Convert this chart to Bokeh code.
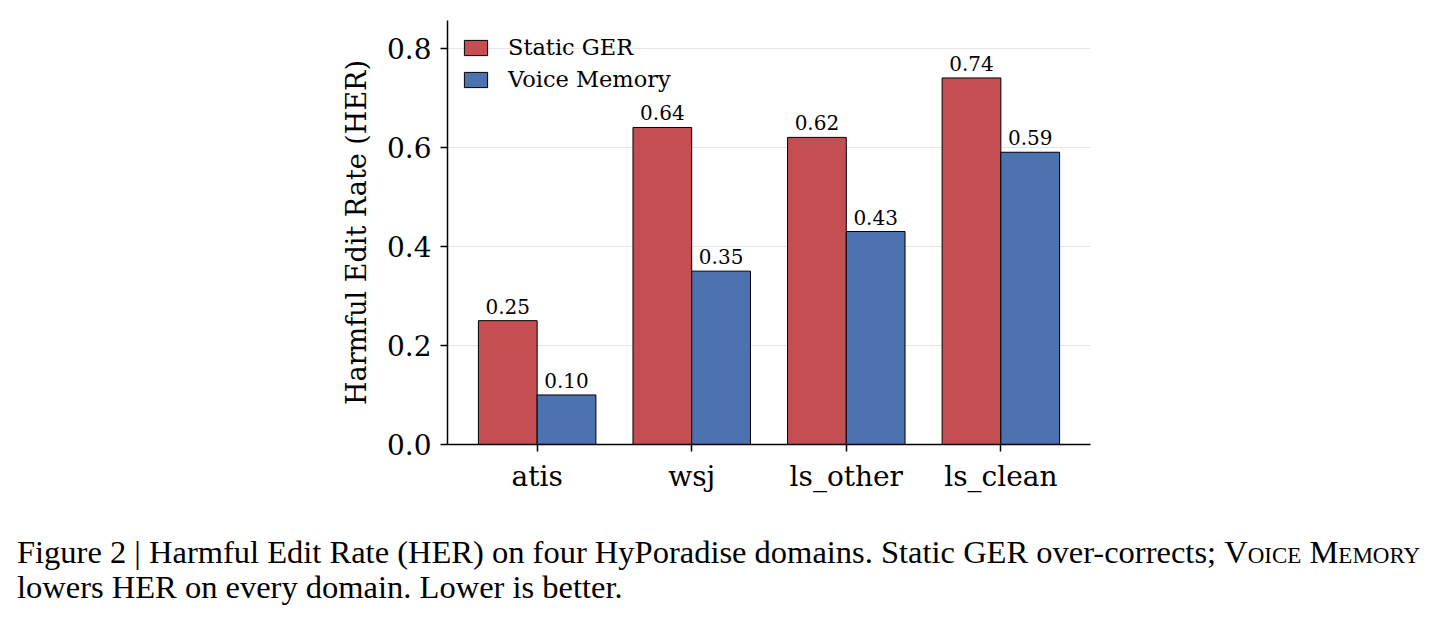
from bokeh.plotting import figure
from bokeh.models import ColumnDataSource, FactorRange, FixedTicker, Div, Legend, LegendItem
from bokeh.layouts import column
from bokeh.transform import dodge
from bokeh.embed import file_html
from bokeh.resources import INLINE

domains = ["atis", "wsj", "ls_other", "ls_clean"]
static_ger = [0.25, 0.64, 0.62, 0.74]
voice_memory = [0.10, 0.35, 0.43, 0.59]
y_ticks = [0.0, 0.2, 0.4, 0.6, 0.8]

RED = "#C44E52"
BLUE = "#4C72B0"
SERIF = "DejaVu Serif"

src = ColumnDataSource(data=dict(
    domain=domains,
    static=static_ger,
    voice=voice_memory,
    static_txt=["%.2f" % v for v in static_ger],
    voice_txt=["%.2f" % v for v in voice_memory],
))

p = figure(x_range=FactorRange(factors=domains, range_padding=0.08, range_padding_units="absolute"),
           y_range=(0, 0.856),
           frame_width=643, frame_height=424,
           min_border_left=447, min_border_top=20, min_border_bottom=70, min_border_right=20,
           output_backend="svg", toolbar_location=None, tools="")

r1 = p.vbar(x=dodge("domain", -0.19, range=p.x_range), top="static", width=0.38, source=src,
            fill_color=RED, line_color="black", line_width=1)
r2 = p.vbar(x=dodge("domain", 0.19, range=p.x_range), top="voice", width=0.38, source=src,
            fill_color=BLUE, line_color="black", line_width=1)

for col, txt, off in (("static", "static_txt", -0.19), ("voice", "voice_txt", 0.19)):
    p.text(x=dodge("domain", off, range=p.x_range), y=col, text=txt, source=src,
           y_offset=-7, text_align="center", text_baseline="bottom",
           text_font={"value": SERIF}, text_font_size="20px", text_color="black")

legend = Legend(items=[LegendItem(label="Static GER", renderers=[r1]),
                       LegendItem(label="Voice Memory", renderers=[r2])],
                location="top_left")
legend.border_line_color = None
legend.background_fill_alpha = 0
legend.label_text_font = SERIF
legend.label_text_font_size = "22.5px"
legend.label_text_color = "black"
legend.glyph_width = 29
legend.glyph_height = 19
legend.spacing = 6
legend.margin = 14
legend.padding = 8
legend.label_standoff = 18
p.add_layout(legend)

p.outline_line_color = None
p.xgrid.grid_line_color = None
p.ygrid.grid_line_color = "#e6e6e6"
p.ygrid.ticker = FixedTicker(ticks=y_ticks)
p.yaxis.ticker = FixedTicker(ticks=y_ticks)
p.yaxis.major_label_overrides = {t: "%.1f" % t for t in y_ticks}
p.yaxis.axis_label = "Harmful Edit Rate (HER)"
p.yaxis.axis_label_text_font = SERIF
p.yaxis.axis_label_text_font_style = "normal"
p.yaxis.axis_label_text_font_size = "27px"
p.yaxis.axis_label_text_color = "black"
p.yaxis.axis_label_standoff = 12

for ax in (p.xaxis, p.yaxis):
    ax.axis_line_width = 1.5
    ax.axis_line_color = "black"
    ax.major_tick_in = 0
    ax.major_tick_out = 7
    ax.major_tick_line_width = 1.5
    ax.minor_tick_line_color = None
    ax.major_label_text_font = SERIF
    ax.major_label_text_font_size = "28px"
    ax.major_label_text_color = "black"
    ax.major_label_standoff = 9

p.xaxis.major_label_standoff = 8

caption = Div(text=(
    "Figure 2 | Harmful Edit Rate (HER) on four HyPoradise domains. Static GER over-corrects; "
    "<span style='font-variant: small-caps'>Voice Memory</span><br>"
    "lowers HER on every domain. Lower is better."),
    width=1425,
    styles={"font-family": "Liberation Serif", "font-size": "32.5px", "line-height": "35px",
            "color": "black", "white-space": "nowrap", "margin-left": "17px", "margin-top": "21px"})

layout = column(p, caption, spacing=0)

open("out.html", "w").write(file_html(layout, INLINE))
